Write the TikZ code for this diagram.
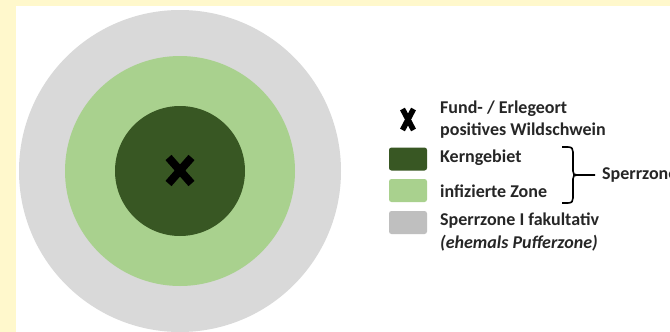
\documentclass[tikz,border=0pt]{standalone}
\usepackage{fontspec}
\setmainfont{Carlito}
\definecolor{pagebg}{HTML}{FFF8CC}
\definecolor{outerzone}{HTML}{D9D9D9}
\definecolor{midzone}{HTML}{A9D18E}
\definecolor{corezone}{HTML}{385723}
\definecolor{legendgrey}{HTML}{BFBFBF}
\definecolor{txt}{HTML}{262626}
\tikzset{
  zone/.style={circle,inner sep=0pt,outer sep=0pt,minimum size=#1},
  swatch/.style={rounded corners=2.5pt,inner sep=0pt,minimum width=38pt,minimum height=23pt},
  lbl/.style={anchor=west,inner sep=0pt,font=\fontsize{18}{20}\selectfont\bfseries,text=txt},
  crossmark/.style={line width=#1,black}
}
\begin{document}
\begin{tikzpicture}[x=1pt,y=-1pt]
\useasboundingbox (0,0) rectangle (670,332);
\fill[pagebg] (0,0) rectangle (670,332);
\fill[white] (16,6) rectangle (670,332);
\begin{scope}
\clip (0,0) rectangle (670,332);
\node[zone=322pt,fill=outerzone] (outer) at (180,171) {};
\node[zone=230pt,fill=midzone] (mid) at (180,171) {};
\node[zone=130pt,fill=corezone] (core) at (180,171) {};
\draw[crossmark=8pt] (168.5,157.5) -- (191.5,183.5) (191.5,157.5) -- (168.5,183.5);
\draw[crossmark=5.5pt] (402.5,109) -- (413.5,130) (413.5,109) -- (402.5,130);
\node[swatch,fill=corezone] (s1) at (408,159) {};
\node[swatch,fill=midzone] (s2) at (408,190.5) {};
\node[swatch,fill=legendgrey] (s3) at (408,222.5) {};
\node[lbl] (t1) at (440,109) {Fund- / Erlegeort};
\node[lbl] (t2) at (440,131) {positives Wildschwein};
\node[lbl] (t3) at (440,158) {Kerngebiet};
\node[lbl] (t4) at (440,191) {infizierte Zone};
\node[lbl] (t5) at (440,221) {Sperrzone I fakultativ};
\node[lbl,font=\fontsize{18}{20}\selectfont\bfseries\itshape] (t6) at (440,243) {(ehemals Pufferzone)};
\coordinate (ba) at (562,147);
\coordinate (bb) at (562,203);
\coordinate (bm) at (595,175);
\draw[line width=1.6pt,black] (ba) -- (568,147) .. controls (572,147) and (573,149) .. (573,152) -- (573,171) .. controls (573,174) and (574,175) .. (577,175) -- (bm)
  (577,175) .. controls (574,175) and (573,176) .. (573,179) -- (573,198) .. controls (573,201) and (572,203) .. (568,203) -- (bb);
\node[lbl] (t7) at (602,175) {Sperrzone};
\end{scope}
\end{tikzpicture}
\end{document}
